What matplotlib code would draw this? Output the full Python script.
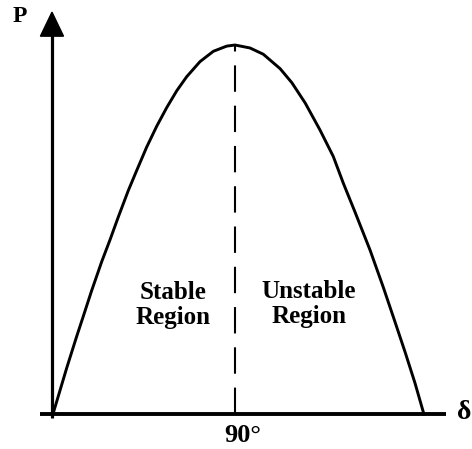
import matplotlib.pyplot as plt
from matplotlib.patches import Polygon


# ---------------------------------------------------
# DATA
# ---------------------------------------------------
delta_deg = [0.0, 6.8, 11.7, 15.0, 19.1, 24.1, 28.2, 32.3, 37.2, 41.4,
             46.3, 51.3, 56.2, 61.2, 66.1, 72.7, 79.3, 85.9, 90.0,
             97.4, 104.0, 112.3, 118.1, 124.7, 132.0, 138.6, 143.6,
             149.3, 156.8, 163.3, 169.1, 174.1, 179.0, 183.4]
power = [0.0, 0.125, 0.210, 0.265, 0.334, 0.413, 0.472, 0.534, 0.605, 0.660,
         0.723, 0.780, 0.830, 0.876, 0.914, 0.955, 0.983, 0.997, 1.0,
         0.992, 0.975, 0.936, 0.898, 0.843, 0.770, 0.698, 0.625,
         0.548, 0.444, 0.344, 0.250, 0.168, 0.084, 0.0]

peak_delta = 90.0
peak_power = 1.0
region_labels = ["Stable\nRegion", "Unstable\nRegion"]


# ---------------------------------------------------
# PLOT
# ---------------------------------------------------
plt.rcParams['font.family'] = ['Liberation Serif', 'DejaVu Serif']

fig = plt.figure(figsize=(4.72, 4.49), dpi=100)
ax = fig.add_axes([0, 0, 1, 1])
ax.set_xlim(-26.2, 207.2)
ax.set_ylim(-0.0949, 1.122)
ax.axis('off')

# axes lines
ax.plot([-0.5, -0.5], [-0.011, 1.03], color='black', lw=2.3,
        solid_capstyle='butt')
ax.plot([-6.4, 194.3], [0, 0], color='black', lw=2.8,
        solid_capstyle='butt')
ax.add_patch(Polygon([[-6.2, 1.024], [5.2, 1.024], [-0.5, 1.089]],
                     closed=True, color='black'))

# power-angle curve
ax.plot(delta_deg, power, color='black', lw=2.1)

# dashed line at 90 degrees
lw = 1.5
ax.plot([peak_delta, peak_delta], [0, peak_power], color='black', lw=lw,
        linestyle=(0, (19.0 / lw, 10.0 / lw)))

# labels
ax.text(-16.3, 1.076, "P", fontsize=17, fontweight='bold',
        ha='center', va='center')
ax.text(203.5, 0.005, "δ", fontsize=20, fontweight='bold',
        ha='center', va='center')
ax.text(94, -0.057, "90°", fontsize=19, fontweight='bold',
        ha='center', va='center')
ax.text(59.3, 0.295, region_labels[0], fontsize=18, fontweight='bold',
        ha='center', va='center', linespacing=1.15)
ax.text(126.6, 0.298, region_labels[1], fontsize=18, fontweight='bold',
        ha='center', va='center', linespacing=1.15)

plt.savefig("out.png", dpi=100)
